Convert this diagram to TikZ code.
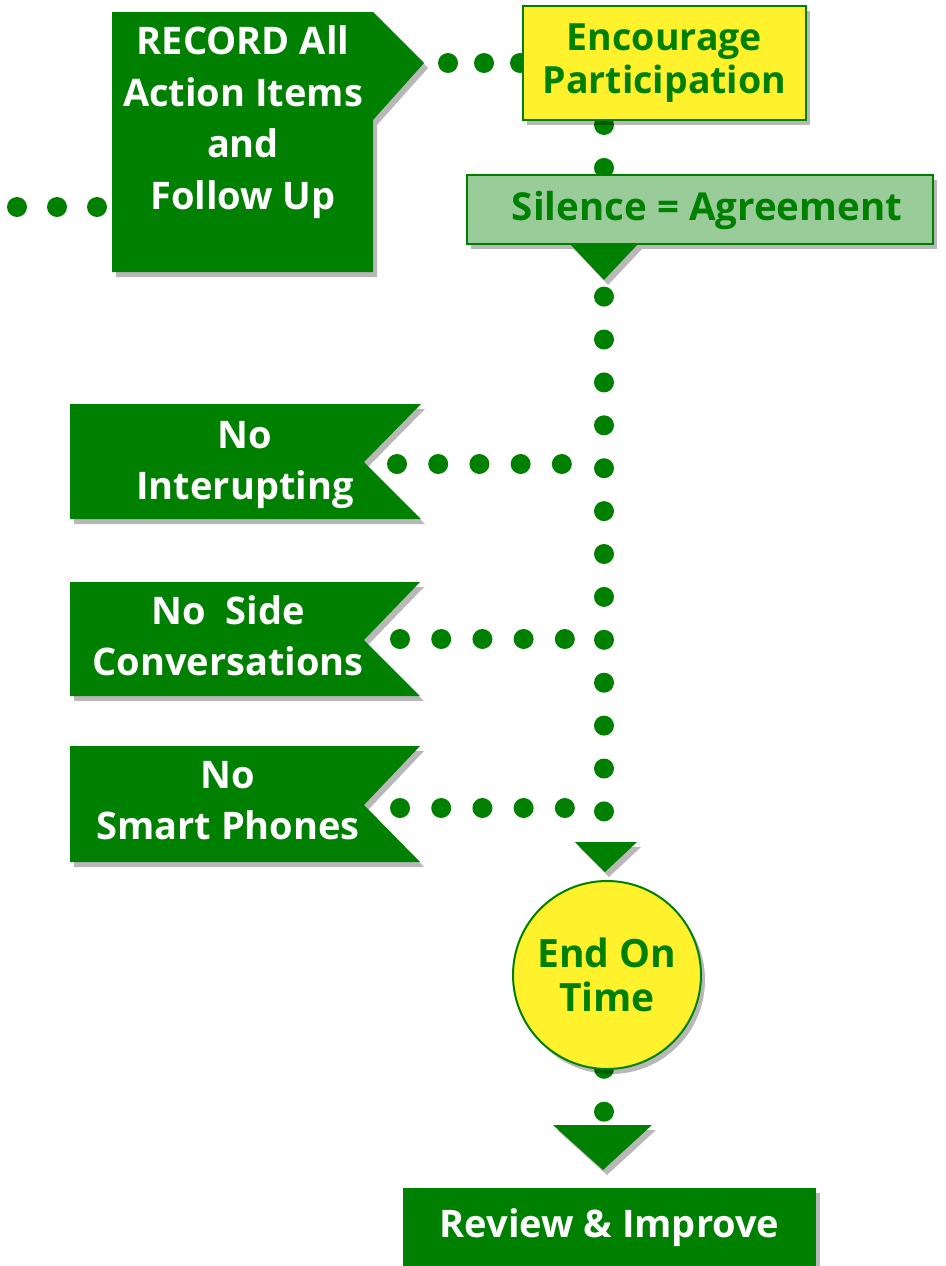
\documentclass[tikz,border=0pt]{standalone}
\usepackage{fontspec}
\setmainfont{Open Sans}
\usetikzlibrary{shadows}
\definecolor{rgreen}{RGB}{0,128,0}
\definecolor{ryellow}{RGB}{255,241,43}
\definecolor{rlight}{RGB}{153,204,153}
\begin{document}
\begin{tikzpicture}[x=1pt,y=-1pt,
        every node/.style={inner sep=0pt,align=center},
        boxshadow/.style={drop shadow={shadow xshift=4pt,shadow yshift=-5pt,fill=black,opacity=.28}},
        gbox/.style={fill=rgreen,boxshadow},
        ybox/.style={fill=ryellow,draw=rgreen,line width=2pt,boxshadow,text=rgreen},
        lbox/.style={fill=rlight,draw=rgreen,line width=2pt,boxshadow},
        wtxt/.style={text=white,font=\fontsize{38}{51}\selectfont\bfseries},
        dots/.style={draw=rgreen,line width=20pt,line cap=round,dash pattern=on 0pt off #1}]
    \useasboundingbox (0,0) rectangle (945,1266);

    \coordinate (ctop) at (604,125);
    \coordinate (cbot) at (604,1155);
    \coordinate (lend) at (17,207);
    \coordinate (recw) at (112,207);
    \coordinate (rtip) at (424,63);
    \coordinate (j1) at (562,464);
    \coordinate (j2) at (565,639);
    \coordinate (j3) at (565,808);

    % dotted lines first, boxes go on top
    \draw[dots=42.9pt] (ctop) -- (cbot);
    \draw[dots=40pt] (lend) -- (recw);
    \draw[dots=36pt] ([xshift=24pt]rtip) -- (523,63);

    \node[ybox,minimum width=283pt,minimum height=114pt,
        font=\fontsize{37.5}{43}\selectfont\bfseries] (enc) at (664.5,63) {Encourage\\Participation};
    \node[lbox,minimum width=466pt,minimum height=69pt] (sil) at (700,209.5) {};
    \node[text=rgreen,font=\fontsize{38.5}{43}\selectfont\bfseries] at (707,210) {Silence = Agreement};
    \fill[gbox] (570,244) -- (638,244) -- (604,280) -- cycle;

    \fill[gbox] (112,12) -- (373,12) -- (424,63) -- (373,120) -- (373,272) -- (112,272) -- cycle;
    \node[wtxt,font=\fontsize{38}{51.5}\selectfont\bfseries] (rec) at (243,122) {RECORD All\\Action Items\\and\\Follow Up};

    \fill[gbox] (70,404) -- (421,404) -- (364,462) -- (421,519) -- (70,519) -- cycle;
    \node[wtxt] (nointr) at (245,465) {No\\Interupting};
    \fill[gbox] (70,582) -- (420,582) -- (364,640) -- (420,696) -- (70,696) -- cycle;
    \node[wtxt] (noside) at (228,636) {No\ \ Side\\Conversations};
    \fill[gbox] (70,746) -- (420,746) -- (364,805) -- (420,862) -- (70,862) -- cycle;
    \node[wtxt] (nophone) at (228,801) {No\\Smart Phones};

    \draw[dots=41.2pt] (397,464) -- (j1);
    \draw[dots=41.2pt] (400,639) -- (j2);
    \draw[dots=41.2pt] (400,808) -- (j3);

    \fill[gbox] (575,842) -- (637,842) -- (605,872) -- cycle;
    \node[ybox,circle,minimum size=188pt,
        font=\fontsize{39}{44}\selectfont\bfseries] (endt) at (607,975) {End On\\Time};
    \fill[gbox] (553,1125) -- (652,1125) -- (603,1170) -- cycle;
    \node[gbox,minimum width=413pt,minimum height=80pt,text=white,
        font=\fontsize{38}{43}\selectfont\bfseries] (rev) at (609.5,1228) {Review \& Improve};
\end{tikzpicture}
\end{document}
